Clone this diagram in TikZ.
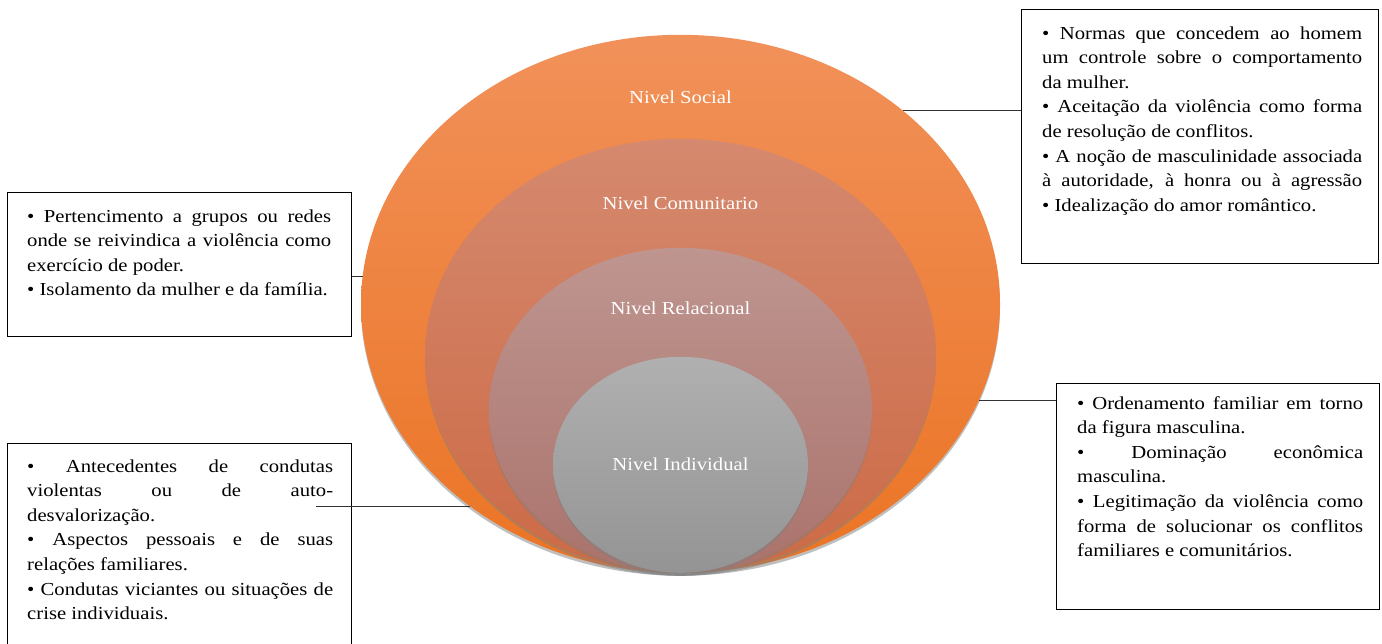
\documentclass[tikz,border=0pt]{standalone}
\usepackage{fontspec}
\setmainfont[FakeStretch=1.13]{Liberation Serif}
\usepackage{tikz}
\usetikzlibrary{calc, shapes, shadows, positioning}

\definecolor{socialtop}{RGB}{241,145,90}
\definecolor{socialmid}{RGB}{241,128,52}
\definecolor{socialbot}{RGB}{235,116,36}
\definecolor{comuntop}{RGB}{213,137,110}
\definecolor{comunbot}{RGB}{204,106,70}
\definecolor{relactop}{RGB}{191,149,144}
\definecolor{relacbot}{RGB}{170,115,108}
\definecolor{indivtop}{RGB}{176,176,176}
\definecolor{indivbot}{RGB}{148,148,148}

\tolerance=10000
\hyphenpenalty=10000

\begin{document}
\begin{tikzpicture}[
  x=1pt, y=-1pt,
  myellipse/.style 2 args={
    ellipse,
    inner sep=0pt,
    minimum width=#1,
    minimum height=#2,
    anchor=south,
    drop shadow={shadow xshift=0pt, shadow yshift=-3pt, opacity=0.5}
    },
  mylevel/.style={text=white, font=\fontsize{18.3}{22}\selectfont},
  myframe/.style={draw, thick, rectangle, inner sep=0pt, anchor=north west},
  mytext/.style={
    anchor=base west,
    inner sep=0pt,
    text width=#1,
    align=justify,
    font=\fontsize{18.3}{24.6}\selectfont
    },
  myline/.style={draw=black!80, semithick}
]
\useasboundingbox (0,0) rectangle (1382,643);

% Draw levels
\node[myellipse={639pt}{538pt}, top color=socialtop, middle color=socialmid, bottom color=socialbot] (social) at (680.5,573) {};
\node[myellipse={511pt}{434pt}, top color=comuntop, bottom color=comunbot] (comun) at (social.south) {};
\node[myellipse={383pt}{325pt}, top color=relactop, bottom color=relacbot] (relac) at (social.south) {};
\node[myellipse={255pt}{216pt}, top color=indivtop, bottom color=indivbot] (indiv) at (social.south) {};

\node[mylevel] (socialname) at ([shift={(0,63)}]social.north) {Nivel Social};
\node[mylevel] (comunname) at ([shift={(0,65)}]comun.north) {Nivel Comunitario};
\node[mylevel] (relacname) at ([shift={(0,61)}]relac.north) {Nivel Relacional};
\node[mylevel] (indivname) at ([shift={(0,108)}]indiv.north) {Nivel Individual};

% Draw boxes
\node[myframe, minimum width=344pt, minimum height=144pt] (pertbox) at (7,192) {};
\node[myframe, minimum width=344pt, minimum height=212pt] (antecbox) at (7,443) {};
\node[myframe, minimum width=357pt, minimum height=254pt] (normasbox) at (1021,9) {};
\node[myframe, minimum width=323pt, minimum height=226pt] (ordenbox) at (1056,383) {};

\node[mytext=304pt] (perttxt) at ([shift={(20,30)}]pertbox.north west)
  {• Pertencimento a grupos ou redes\linebreak
   onde se reivindica a violência como\linebreak
   exercício de poder.\par
   • Isolamento da mulher e da família.};

\node[mytext=306pt] (antectxt) at ([shift={(20,29)}]antecbox.north west)
  {• Antecedentes de condutas\linebreak
   violentas ou de auto-\linebreak
   desvalorização.\par
   • Aspectos pessoais e de suas\linebreak
   relações familiares.\par
   • Condutas viciantes ou situações de\linebreak
   crise individuais.};

\node[mytext=320pt] (normastxt) at ([shift={(21,30)}]normasbox.north west)
  {• Normas que concedem ao homem\linebreak
   um controle sobre o comportamento\linebreak
   da mulher.\par
   • Aceitação da violência como forma\linebreak
   de resolução de conflitos.\par
   • A noção de masculinidade associada\linebreak
   à autoridade, à honra ou à agressão\linebreak
   • Idealização do amor romântico.};

\node[mytext=286pt] (ordentxt) at ([shift={(21,26)}]ordenbox.north west)
  {• Ordenamento familiar em torno\linebreak
   da figura masculina.\par
   • Dominação econômica\linebreak
   masculina.\par
   • Legitimação da violência como\linebreak
   forma de solucionar os conflitos\linebreak
   familiares e comunitários.};

% Draw connectors
\draw[myline] (social.41) -- (social.41 -| normasbox.west);
\draw[myline] (social.175) -- (social.175 -| pertbox.east);
\draw[myline] (social.342) -- (social.342 -| ordenbox.west);
\draw[myline] (social.224) -- ($(social.224 -| antecbox.east)+(-36,0)$);

\end{tikzpicture}
\end{document}
